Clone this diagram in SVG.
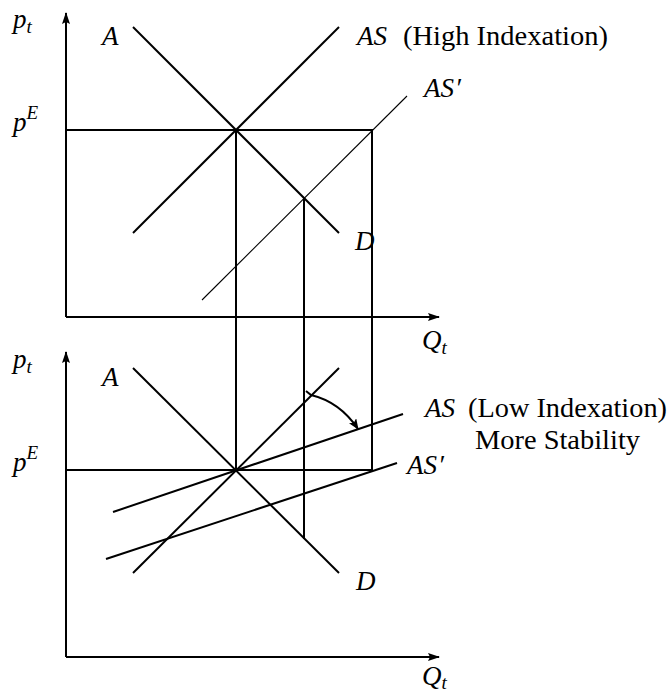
<svg xmlns="http://www.w3.org/2000/svg" width="669" height="697" viewBox="0 0 669 697">
<style>
.l{stroke:#000;stroke-width:2;fill:none;stroke-linecap:butt}
.thin{stroke:#000;stroke-width:1.1;fill:none}
text,tspan{font-family:'Liberation Serif','Times New Roman',serif}
.m{font-style:italic;font-size:27px;fill:#000}
.r{font-style:normal;font-size:27px;fill:#000}
.s{font-style:italic;font-size:19px;fill:#000}
</style>
<defs>
<marker id="ah" markerWidth="12" markerHeight="8" refX="11" refY="4" orient="auto" markerUnits="userSpaceOnUse">
<path d="M0,0 L12,4 L0,8 L2,4 Z" fill="#000"/>
</marker>
<marker id="ah2" markerWidth="12" markerHeight="9" refX="10" refY="4.5" orient="auto" markerUnits="userSpaceOnUse">
<path d="M0,0 L11,4.5 L0,9 L2.5,4.5 Z" fill="#000"/>
</marker>
</defs>
<rect width="669" height="697" fill="#fff"/>

<g id="axes-top">
<line class="l" x1="66" y1="317" x2="66" y2="13" marker-end="url(#ah)"/>
<line class="l" x1="66" y1="317" x2="439" y2="317" marker-end="url(#ah)"/>
</g>
<g id="axes-bottom">
<line class="l" x1="66" y1="657" x2="66" y2="352" marker-end="url(#ah)"/>
<line class="l" x1="66" y1="657" x2="439" y2="657" marker-end="url(#ah)"/>
</g>

<g id="connectors">
<line class="l" x1="133" y1="27" x2="339" y2="233"/>
<line class="l" x1="133" y1="233" x2="339" y2="27"/>
<line class="l" x1="66" y1="130" x2="373" y2="130"/>
<line class="thin" x1="202" y1="300" x2="407" y2="96"/>
<line class="l" x1="236" y1="130" x2="236" y2="470"/>
<line class="l" x1="304" y1="198" x2="304" y2="539"/>
<line class="l" x1="372" y1="129" x2="372" y2="471"/>
<line class="l" x1="133" y1="368" x2="339" y2="573"/>
<line class="l" x1="133" y1="573" x2="339" y2="368"/>
<line class="l" x1="66" y1="470" x2="373" y2="470"/>
<line class="l" x1="113" y1="512" x2="403" y2="414"/>
<line class="l" x1="106" y1="559" x2="397" y2="463"/>
<path class="l" d="M306,391 L311,395 Q340,402 358,429" marker-end="url(#ah2)"/>
</g>

<g id="labels-top">
<text class="m" x="13" y="28">p<tspan class="s" dy="5">t</tspan></text>
<text class="m" x="102" y="45">A</text>
<text class="m" x="13" y="131">p<tspan class="s" dy="-12">E</tspan></text>
<text class="m" x="357" y="45">AS</text>
<text class="r" x="403" y="45" textLength="205" lengthAdjust="spacingAndGlyphs">(High Indexation)</text>
<text class="m" x="424" y="97">AS<tspan dx="1">′</tspan></text>
<text class="m" x="355" y="250">D</text>
<text class="m" x="422" y="349">Q<tspan class="s" dy="5">t</tspan></text>
</g>

<g id="labels-bottom">
<text class="m" x="13" y="368">p<tspan class="s" dy="5">t</tspan></text>
<text class="m" x="102" y="386">A</text>
<text class="m" x="13" y="471">p<tspan class="s" dy="-12">E</tspan></text>
<text class="m" x="425" y="417">AS</text>
<text class="r" x="468" y="417" textLength="199" lengthAdjust="spacingAndGlyphs">(Low Indexation)</text>
<text class="r" x="475" y="449" textLength="165" lengthAdjust="spacingAndGlyphs">More Stability</text>
<text class="m" x="407" y="474">AS<tspan dx="1">′</tspan></text>
<text class="m" x="356" y="590">D</text>
<text class="m" x="422" y="685">Q<tspan class="s" dy="4">t</tspan></text>
</g>
</svg>
